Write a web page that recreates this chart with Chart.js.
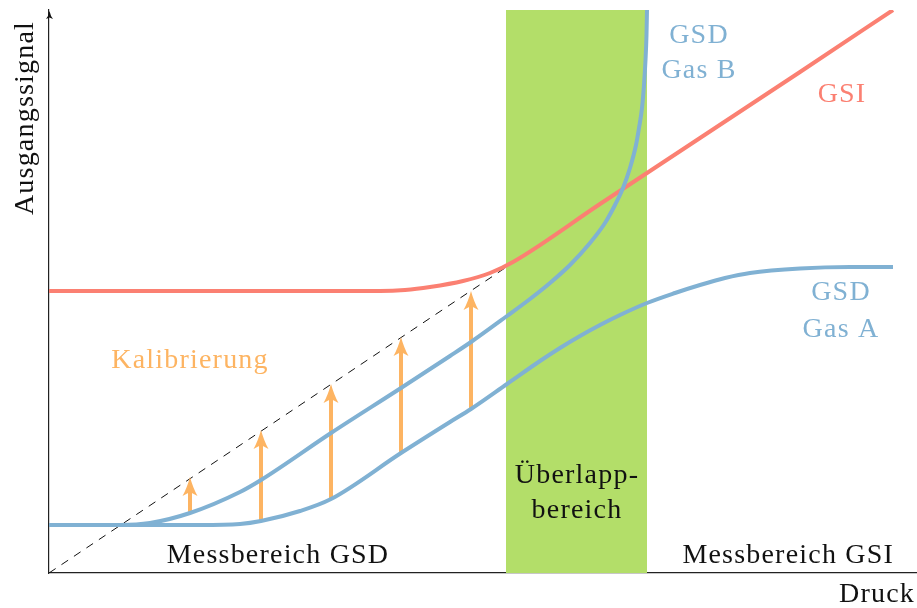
<!DOCTYPE html>
<html>
<head>
<meta charset="utf-8">
<script src="https://cdn.jsdelivr.net/npm/chart.js@4"></script>
<style>
  html, body { margin: 0; padding: 0; background: #fff; }
  canvas { display: block; }
</style>
</head>
<body>
<canvas id="chart" width="917" height="608" style="width:917px;height:608px"></canvas>
<script>
var ctx = document.getElementById('chart').getContext('2d');

var colors = {
  red : "#fb8072",
  blue : "#80b1d3",
  orange : "#fdb462",
  green : "#b3de69",
  ink : "#111111"
}

var labelFont = '28px "Liberation Serif", "DejaVu Serif", serif';

// pressure (x) and output signal (y), schematic units
var gasBX = [0, 71, 101, 141, 191, 212, 282, 352, 401, 422, 458, 481, 501, 521, 541, 556, 566, 574, 581, 587, 590, 593, 595, 596.5, 597.5, 598];
var gasBY = [48, 48, 50, 60, 81, 93, 140, 185, 217, 231, 257, 274, 290, 308, 330, 350, 368, 385, 405, 428, 445, 465, 488, 513, 538, 563];

var gasAX = [0, 151, 191, 212, 251, 282, 352, 401, 422, 458, 491, 511, 531, 551, 571, 598, 626, 651, 676, 701, 751, 801, 844];
var gasAY = [48, 48, 49, 52, 62, 74, 120, 151, 164, 189, 212, 225, 237, 248, 258, 270, 280, 288, 295, 300, 304.5, 306, 306];

var gsiX = [0, 331, 356, 381, 414, 441, 464, 551, 651, 751, 844];
var gsiY = [282, 282, 283, 286, 292, 300, 311, 369, 435, 501, 563];

var refX = [0, 456];
var refY = [0, 305];

// calibration arrows: from the GSD curve up to the reference line
var arrowX = [141, 212, 282, 352, 422];
var arrowFrom = [60, 51, 74, 120, 164];
var arrowTo = [96, 143, 189, 236, 282];

var overlapX = [457, 598];
var overlapTop = 563;

function points(xs, ys) {
  return xs.map((x, i) => ({x: x, y: ys[i]}));
}

function curve(xs, ys, color) {
  return {
    data: points(xs, ys),
    borderColor: color,
    borderWidth: 4,
    cubicInterpolationMode: 'monotone',
    pointRadius: 0,
    fill: false
  };
}

var arrowSets = arrowX.map((x, i) => ({
  data: [{x: x, y: arrowFrom[i]}, {x: x, y: arrowTo[i]}],
  arrow: true,
  showLine: false,
  pointRadius: 0,
  borderColor: colors.orange
}));

var datasets = [
  curve(gasBX, gasBY, colors.blue),
  curve(gasAX, gasAY, colors.blue),
  curve(gsiX, gsiY, colors.red)
].concat(arrowSets).concat([
  {
    data: points(refX, refY),
    borderColor: colors.ink,
    borderWidth: 1,
    borderDash: [8, 7],
    pointRadius: 0,
    tension: 0
  },
  {
    data: overlapX.map((x) => ({x: x, y: overlapTop})),
    borderWidth: 0,
    pointRadius: 0,
    backgroundColor: colors.green,
    fill: 'origin'
  }
]);

var labels = [
  {text: 'Ausgangssignal', x: -16, y: 455, color: colors.ink, rotate: true},
  {text: 'Druck', x: 866, y: -29, color: colors.ink, align: 'right'},
  {text: 'Messbereich GSD', x: 229, y: 10, color: colors.ink},
  {text: 'Messbereich GSI', x: 845, y: 10, color: colors.ink, align: 'right'},
  {text: '\u00dcberlapp-', x: 528, y: 90, color: colors.ink},
  {text: 'bereich', x: 528, y: 55, color: colors.ink},
  {text: 'GSD', x: 650, y: 530, color: colors.blue},
  {text: 'Gas B', x: 650, y: 495, color: colors.blue},
  {text: 'GSI', x: 793, y: 471, color: colors.red},
  {text: 'GSD', x: 792, y: 273, color: colors.blue},
  {text: 'Gas A', x: 792, y: 236, color: colors.blue},
  {text: 'Kalibrierung', x: 141, y: 205, color: colors.orange}
];

var arrowPlugin = {
  id: 'arrows',
  afterDatasetDraw(chart, args) {
    var ds = chart.data.datasets[args.index];
    if (!ds.arrow) return;
    var a = args.meta.data[0], b = args.meta.data[1];
    var c = chart.ctx;
    c.save();
    c.strokeStyle = ds.borderColor;
    c.fillStyle = ds.borderColor;
    c.lineWidth = 4;
    c.beginPath();
    c.moveTo(a.x, a.y);
    c.lineTo(b.x, b.y + 14);
    c.stroke();
    c.beginPath();
    c.moveTo(b.x, b.y);
    c.quadraticCurveTo(b.x + 3, b.y + 11, b.x + 7.5, b.y + 19);
    c.lineTo(b.x, b.y + 15);
    c.lineTo(b.x - 7.5, b.y + 19);
    c.quadraticCurveTo(b.x - 3, b.y + 11, b.x, b.y);
    c.fill();
    c.restore();
  }
};

var textPlugin = {
  id: 'texts',
  afterDraw(chart) {
    var c = chart.ctx, xs = chart.scales.x, ys = chart.scales.y;
    var area = chart.chartArea;
    c.save();
    // arrow tip on the signal axis
    c.fillStyle = colors.ink;
    c.beginPath();
    c.moveTo(area.left + 0.5, area.top + 1);
    c.quadraticCurveTo(area.left + 1.5, area.top + 6, area.left + 4, area.top + 9);
    c.lineTo(area.left + 0.5, area.top + 7.5);
    c.lineTo(area.left - 3, area.top + 9);
    c.quadraticCurveTo(area.left - 0.5, area.top + 6, area.left + 0.5, area.top + 1);
    c.fill();

    c.font = labelFont;
    c.letterSpacing = '1.2px';
    c.textBaseline = 'alphabetic';
    labels.forEach((l) => {
      var px = xs.getPixelForValue(l.x), py = ys.getPixelForValue(l.y);
      c.fillStyle = l.color;
      c.textAlign = l.align || 'center';
      if (l.rotate) {
        c.save();
        c.translate(px, py);
        c.rotate(-Math.PI / 2);
        c.textAlign = 'center';
        c.fillText(l.text, 0, 0);
        c.restore();
      } else {
        c.fillText(l.text, px, py);
      }
    });
    c.restore();
  }
};

function createChart() {
  new Chart(ctx, {
    type: 'line',
    data: { datasets: datasets },
    options: {
      responsive: false,
      devicePixelRatio: 1,
      animation: false,
      layout: { padding: { left: 49, top: 10, right: 0, bottom: 35 } },
      plugins: { legend: { display: false }, tooltip: { enabled: false } },
      scales: {
        x: {
          type: 'linear', min: 0, max: 868,
          ticks: { display: false },
          grid: { display: false, drawTicks: false },
          border: { display: true, color: '#222', width: 1.2 }
        },
        y: {
          type: 'linear', min: 0, max: 563,
          ticks: { display: false },
          grid: { display: false, drawTicks: false },
          border: { display: true, color: '#222', width: 1.2 }
        }
      }
    },
    plugins: [arrowPlugin, textPlugin]
  });
}

document.fonts.load(labelFont).then(createChart, createChart);
</script>
</body>
</html>
